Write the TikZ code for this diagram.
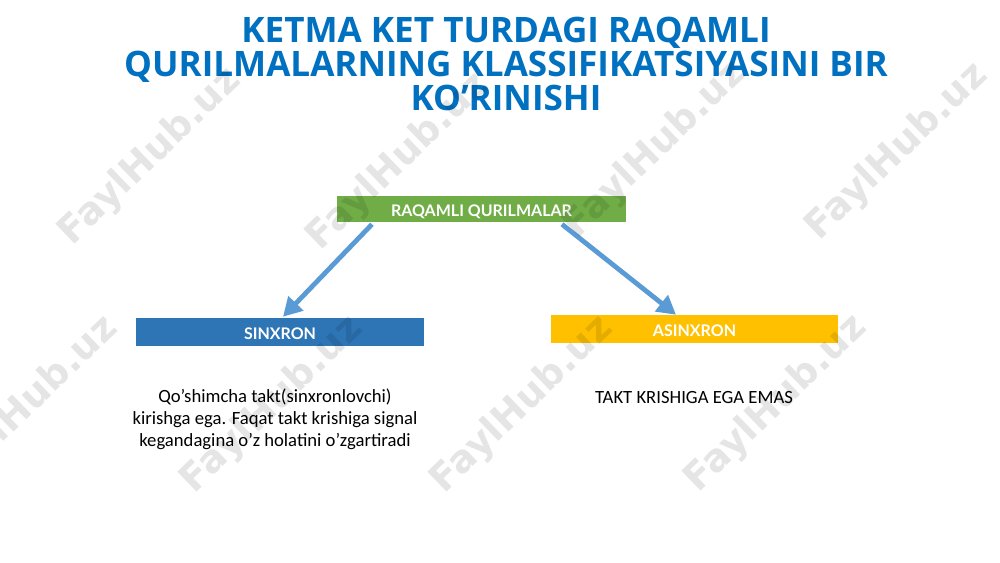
\documentclass[tikz,border=0pt]{standalone}
\usepackage{fontspec}
\setmainfont{Carlito}
\newfontfamily\titlefont{Open Sans}
\newfontfamily\boxfont{Lato}
\newfontfamily\wmfont{DejaVu Sans}
\usetikzlibrary{arrows.meta,calc}
\definecolor{titleblue}{HTML}{0070C0}
\definecolor{boxgreen}{HTML}{70AD47}
\definecolor{boxblue}{HTML}{2E75B6}
\definecolor{boxyellow}{HTML}{FFC000}
\definecolor{arrowblue}{HTML}{5B9BD5}
\tikzset{
  catbox/.style={inner sep=0pt, text=white, font=\boxfont\bfseries\fontsize{12}{14}\selectfont, text height=11pt, text depth=0pt, minimum width=216pt, minimum height=20pt},
  connector/.style={draw=arrowblue, line width=3.6pt, -{Triangle[length=14pt,width=15pt]}},
  bodytext/.style={align=center, font=\fontsize{14}{16.5}\selectfont, inner sep=0pt},
  wm/.style={font=\wmfont\bfseries\fontsize{28.5}{30}\selectfont, text=black, text opacity=0.10, rotate=44, inner sep=0pt}
}
\begin{document}
\begin{tikzpicture}[x=0.75pt,y=-0.75pt]
\useasboundingbox (0,0) rectangle (1000,562);
\fill[white] (0,0) rectangle (1000,562);

\node[align=center, text=titleblue, inner sep=0pt, font=\titlefont\bfseries\fontsize{26.3}{25.5}\selectfont] (title) at (506,64)
  {KETMA KET TURDAGI RAQAMLI\\QURILMALARNING KLASSIFIKATSIYASINI BIR\\KO’RINISHI};

\node[catbox, fill=boxgreen, minimum width=216.75pt, minimum height=19.5pt] (root) at (481.5,209) {RAQAMLI QURILMALAR};
\node[catbox, fill=boxblue, minimum height=21pt] (sync) at (280,332) {SINXRON};
\node[catbox, fill=boxyellow, minimum width=215.25pt, minimum height=21pt] (async) at (694.5,329) {ASINXRON};

\coordinate (a1s) at ($(root.south)+(-109.5,2)$);
\coordinate (a1e) at ($(sync.north)+(3,-1)$);
\coordinate (a2s) at ($(root.south)+(80.5,2)$);
\coordinate (a2e) at ($(async.north)+(-18.5,0)$);
\draw[connector] (a1s) -- (a1e);
\draw[connector] (a2s) -- (a2e);

\node[bodytext] (syncdesc) at (275,419)
  {Qo’shimcha takt(sinxronlovchi)\\kirishga ega. Faqat takt krishiga signal\\kegandagina o’z holatini o’zgartiradi};
\node[bodytext] (asyncdesc) at (694,397) {TAKT KRISHIGA EGA EMAS};

\node[wm] (w1) at (150,157) {FaylHub.uz};
\node[wm] (w2) at (398,162) {FaylHub.uz};
\node[wm] (w3) at (655,150) {FaylHub.uz};
\node[wm] (w4) at (897,152) {FaylHub.uz};
\node[wm] (w5) at (27,405) {FaylHub.uz};
\node[wm] (w6) at (272,405) {FaylHub.uz};
\node[wm] (w7) at (522,405) {FaylHub.uz};
\node[wm] (w8) at (776,404) {FaylHub.uz};
\end{tikzpicture}
\end{document}
